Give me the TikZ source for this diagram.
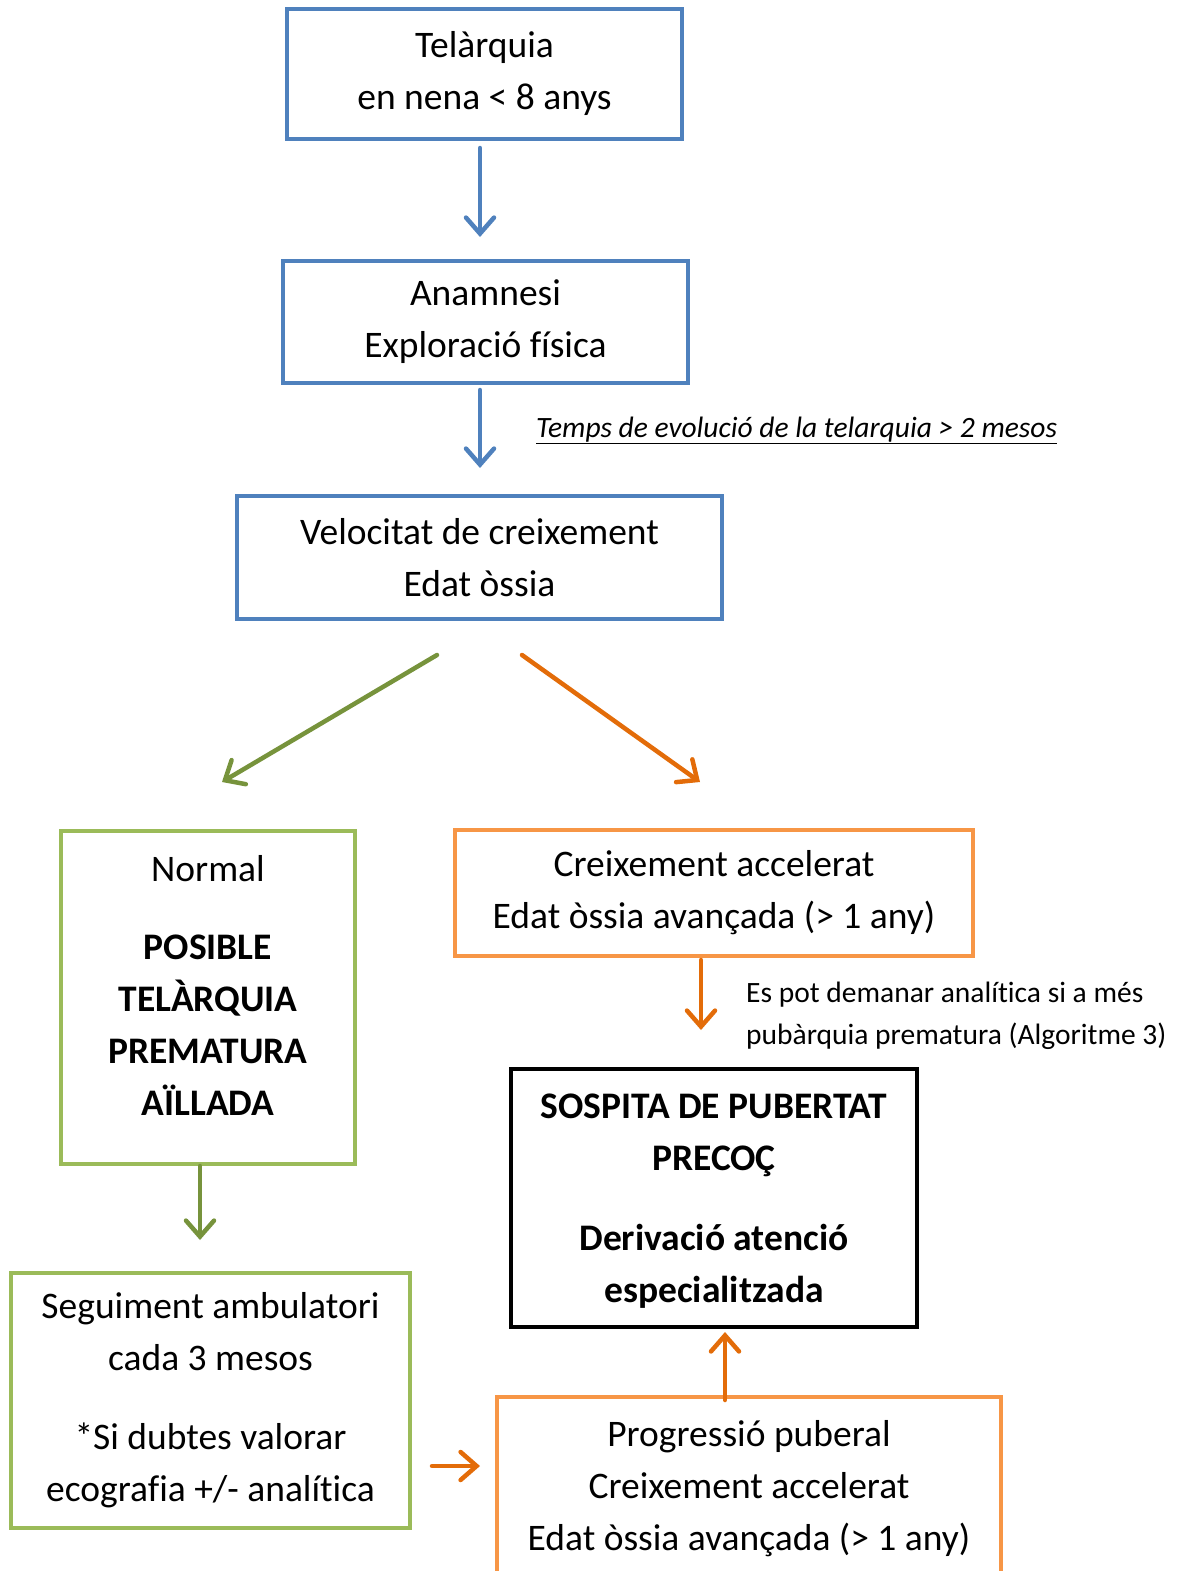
\documentclass[tikz,border=0pt]{standalone}
\usepackage{fontspec}
\setmainfont[Ligatures=NoCommon]{Carlito}
\usetikzlibrary{arrows.meta}
\definecolor{bblue}{HTML}{4F81BD}
\definecolor{bgreen}{HTML}{9BBB59}
\definecolor{agreen}{HTML}{77933C}
\definecolor{borange}{HTML}{F79646}
\definecolor{aorange}{HTML}{E36C09}
\begin{document}
\begin{tikzpicture}[x=1pt,y=-1pt,
  box/.style={draw, line width=4pt, align=center, inner sep=0pt, font=\fontsize{37.5}{52}\selectfont},
  txt/.style={align=center, inner sep=0pt, font=\fontsize{37.5}{52}\selectfont},
  arr/.style={line width=4.5pt, line cap=round, -{Straight Barb[length=16pt,width=28pt,line cap=round]}},
  note/.style={inner sep=0pt, font=\fontsize{29.5}{42}\selectfont}]
\useasboundingbox (0,0) rectangle (1184,1571);
\node[box, draw=bblue, minimum width=395, minimum height=130] (b1) at (484.5,74) {Telàrquia\\en nena < 8 anys};
\node[box, draw=bblue, minimum width=405, minimum height=122] (b2) at (485.5,322) {Anamnesi\\Exploració física};
\node[box, draw=bblue, minimum width=485, minimum height=123] (b3) at (479.5,557.5) {Velocitat de creixement\\Edat òssia};
\node[box, draw=bgreen, minimum width=294, minimum height=333] (nor) at (208,997.5) {};
\node[txt] (nortxt) at ([yshift=12pt]nor.center) {Normal\\[26pt]\textbf{POSIBLE}\\\textbf{TELÀRQUIA}\\\textbf{PREMATURA}\\\textbf{AÏLLADA}};
\node[box, draw=borange, minimum width=518, minimum height=126] (cre) at (714,893) {Creixement accelerat\\Edat òssia avançada (> 1 any)};
\node[box, draw=black, minimum width=406, minimum height=258] (sos) at (714,1198) {};
\node[txt] (sostxt) at ([yshift=-3pt]sos.center) {\textbf{SOSPITA DE PUBERTAT}\\\textbf{PRECOÇ}\\[28pt]\textbf{Derivació atenció}\\\textbf{especialitzada}};
\node[box, draw=bgreen, minimum width=399, minimum height=255] (seg) at (210.5,1400.5) {Seguiment ambulatori\\cada 3 mesos\\[27pt]*Si dubtes valorar\\ecografia +/- analítica};
\node[box, draw=borange, minimum width=504, minimum height=176] (pro) at (749,1485) {};
\node[txt] (protxt) at ([yshift=-4pt]pro.center) {Progressió puberal\\Creixement accelerat\\Edat òssia avançada (> 1 any)};
\node[note, anchor=base west] (t1) at (536,437) {\itshape\underline{Temps de evolució de la telarquia > 2 mesos}};
\node[note, anchor=west, align=left] (t2) at (746,1016) {Es pot demanar analítica si a més\\pubàrquia prematura (Algoritme 3)};
% arrows
\draw[arr, bblue] ([xshift=-4.5pt,yshift=-7pt]b1.south) -- ([xshift=-5.5pt,yshift=22pt]b2.north);
\draw[arr, bblue] ([xshift=-5.5pt,yshift=-5pt]b2.south) -- ([xshift=0.5pt,yshift=26pt]b3.north);
\draw[arr, agreen] ([xshift=-42.5pt,yshift=-34pt]b3.south) -- ([xshift=14pt,yshift=47pt]nor.north);
\draw[arr, aorange] ([xshift=42.5pt,yshift=-34pt]b3.south) -- ([xshift=-14pt,yshift=46pt]cre.north);
\draw[arr, aorange] ([xshift=-13pt,yshift=-2pt]cre.south) -- ([xshift=-13pt,yshift=37pt]sos.north);
\draw[arr, agreen] ([xshift=-8pt]nor.south) -- ([xshift=-10.5pt,yshift=31pt]seg.north);
\draw[arr, aorange] ([xshift=20pt,yshift=-65.5pt]seg.east) -- ([xshift=-15pt,yshift=19pt]pro.west);
\draw[arr, aorange] ([xshift=-24pt,yshift=-5pt]pro.north) -- ([xshift=11pt,yshift=-3pt]sos.south);
\end{tikzpicture}
\end{document}
